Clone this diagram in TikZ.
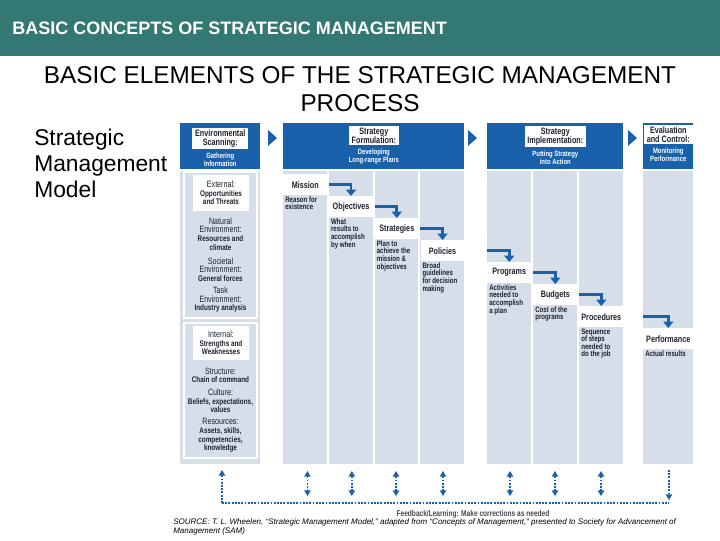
\documentclass[tikz,border=0pt]{standalone}
\usepackage{fontspec}
\setmainfont{Liberation Sans}
\newfontfamily\condfont[FakeStretch=0.78]{Liberation Sans}
\usetikzlibrary{arrows.meta,positioning}

\definecolor{hdrteal}{RGB}{51,120,114}
\definecolor{smblue}{RGB}{26,97,172}
\definecolor{smpale}{RGB}{214,222,234}
\definecolor{smink}{RGB}{28,34,46}
\definecolor{fbgray}{RGB}{70,74,80}

\newcommand\envhd[1]{{\mdseries\fontsize{6.5}{6.1}\selectfont #1}}

\tikzset{
    headbar/.style={fill=smblue, inner sep=0pt, anchor=north west, minimum height=1.15cm},
    headlab/.style={fill=white, text=smink, align=center, inner xsep=2pt, inner ysep=1pt,
        font=\condfont\bfseries\fontsize{6.6}{6.8}\selectfont},
    headsub/.style={text=white, align=center, inner sep=0pt,
        font=\condfont\bfseries\fontsize{5.4}{5.6}\selectfont},
    steplab/.style={fill=white, text=smink, anchor=north west, inner sep=0pt,
        minimum width=1.1cm, minimum height=0.52cm,
        font=\condfont\bfseries\fontsize{6.6}{6.8}\selectfont},
    stepdesc/.style={text=smink, align=left, inner xsep=0.05cm, inner ysep=0pt,
        font=\condfont\bfseries\fontsize{5.6}{5.4}\selectfont},
    stepflow/.style={draw=smblue, line width=2pt, -{Triangle[width=7pt,length=4.5pt]}},
    envbox/.style={fill=white, text=smink, align=center, minimum width=1.4cm, inner sep=0pt,
        font=\condfont\bfseries\fontsize{5.8}{6.1}\selectfont},
    envtext/.style={text=smink, align=center, inner sep=0pt,
        font=\condfont\bfseries\fontsize{5.8}{6.1}\selectfont},
    fback/.style={draw=smblue, line width=1.3pt, densely dotted},
    fbtip/.style={-{Triangle[width=4.5pt,length=4pt]}},
    fbboth/.style={{Triangle[width=4.5pt,length=4pt]}-{Triangle[width=4.5pt,length=4pt]}},
}

\begin{document}
\begin{tikzpicture}[x=0.025cm, y=-0.025cm]
    \useasboundingbox (0,0) rectangle (720,540);
    \fill[white] (0,0) rectangle (720,540);
    % slide header and titles
    \fill[hdrteal] (0,0) rectangle (720,56);
    \node[anchor=west, inner sep=0pt, text=white, font=\bfseries\fontsize{12.8}{15}\selectfont]
        (pagehead) at (12,28) {BASIC CONCEPTS OF STRATEGIC MANAGEMENT};
    \node[anchor=north, inner sep=0pt, align=center, font=\fontsize{17.3}{19.8}\selectfont]
        (title) at (360,66.5) {BASIC ELEMENTS OF THE STRATEGIC MANAGEMENT\\PROCESS};
    \node[anchor=north west, inner sep=0pt, align=left, font=\fontsize{16.2}{18.4}\selectfont]
        (model) at (34,129) {Strategic\\Management\\Model};

    % phase headers
    \node[headbar, minimum width=2cm] (envhead) at (180,123) {};
    \node[headbar, minimum width=4.525cm] (formhead) at (283,123) {};
    \node[headbar, minimum width=3.4cm] (implhead) at (487,123) {};
    \node[headbar, minimum width=1.25cm] (evalhead) at (643,123) {};
    \node[headlab, below=0.125cm of envhead.north] (envlab) {Environmental\\Scanning:};
    \node[headlab, below=0.075cm of formhead.north] (formlab) {Strategy\\Formulation:};
    \node[headlab, below=0.075cm of implhead.north] (impllab) {Strategy\\Implementation:};
    \node[headlab, below=0.05cm of evalhead.north] (evallab) {Evaluation\\and Control:};
    \node[headsub, below=0.08cm of envlab] (envsub) {Gathering\\Information};
    \node[headsub, below=0.08cm of formlab] (formsub) {Developing\\Long-range Plans};
    \node[headsub, below=0.08cm of impllab] (implsub) {Putting Strategy\\into Action};
    \node[headsub, below=0.08cm of evallab] (evalsub) {Monitoring\\Performance};
    \foreach \tx in {268,468,628}
        \fill[smblue] (\tx,130) -- ++(9,8) -- ++(-9,8) -- cycle;

    % columns
    \fill[smpale] (180,171) rectangle (260,464);
    \foreach \cx in {283,328.75,374.5,420.25}
        \fill[smpale] (\cx,171) rectangle ++(43.75,293);
    \foreach \cx in {487,533,579}
        \fill[smpale] (\cx,171) rectangle ++(44,293);
    \fill[smpale] (643,171) rectangle (693,464);

    % environmental scanning
    \draw[white, line width=1pt] (184,172) rectangle (257,318);
    \draw[white, line width=1pt] (184,323) rectangle (257,458);
    \node[envbox, minimum height=0.9cm] (external) at (221,193) {\envhd{External:}\\Opportunities\\and Threats};
    \node[envtext] (natural) at (220.5,234) {\envhd{Natural}\\\envhd{Environment:}\\Resources and\\climate};
    \node[envtext] (societal) at (220.5,269.5) {\envhd{Societal}\\\envhd{Environment:}\\General forces};
    \node[envtext] (task) at (220.5,299.8) {\envhd{Task}\\\envhd{Environment:}\\Industry analysis};
    \node[envbox, minimum height=0.85cm] (internal) at (221,343) {\envhd{Internal:}\\Strengths and\\Weaknesses};
    \node[envtext] (structure) at (220.5,375.2) {\envhd{Structure:}\\Chain of command};
    \node[envtext] (culture) at (220.5,401) {\envhd{Culture:}\\Beliefs, expectations,\\values};
    \node[envtext] (resources) at (220.5,435.5) {\envhd{Resources:}\\Assets, skills,\\competencies,\\knowledge};

    % process steps
    \node[steplab] (mission) at (283,174) {Mission};
    \node[steplab] (objectives) at (328.75,196) {Objectives};
    \node[steplab] (strategies) at (374.5,218) {Strategies};
    \node[steplab] (policies) at (420.25,240) {Policies};
    \node[steplab] (programs) at (487,262) {Programs};
    \node[steplab] (budgets) at (533,284) {Budgets};
    \node[steplab] (procedures) at (579,306) {Procedures};
    \node[steplab, minimum width=1.25cm] (performance) at (643,328) {Performance};

    \node[stepdesc, below=0.025cm of mission.south west, anchor=north west] (missiontxt) {Reason for\\existence};
    \node[stepdesc, below=0.025cm of objectives.south west, anchor=north west] (objectivestxt) {What\\results to\\accomplish\\by when};
    \node[stepdesc, below=0.025cm of strategies.south west, anchor=north west] (strategiestxt) {Plan to\\achieve the\\mission \&\\objectives};
    \node[stepdesc, below=0.025cm of policies.south west, anchor=north west] (policiestxt) {Broad\\guidelines\\for decision\\making};
    \node[stepdesc, below=0.025cm of programs.south west, anchor=north west] (programstxt) {Activities\\needed to\\accomplish\\a plan};
    \node[stepdesc, below=0.025cm of budgets.south west, anchor=north west] (budgetstxt) {Cost of the\\programs};
    \node[stepdesc, below=0.025cm of procedures.south west, anchor=north west] (procedurestxt) {Sequence\\of steps\\needed to\\do the job};
    \node[stepdesc, below=0.025cm of performance.south west, anchor=north west] (performancetxt) {Actual results};

    \draw[stepflow] (mission.east -| objectives.west) -| (objectives.north);
    \draw[stepflow] (objectives.east -| strategies.west) -| (strategies.north);
    \draw[stepflow] (strategies.east -| policies.west) -| (policies.north);
    \draw[stepflow] (policies.east -| programs.west) -| (programs.north);
    \draw[stepflow] (programs.east -| budgets.west) -| (budgets.north);
    \draw[stepflow] (budgets.east -| procedures.west) -| (procedures.north);
    \draw[stepflow] (procedures.east -| performance.west) -| (performance.north);

    % feedback loop
    \coordinate (fbleft) at (222,503);
    \coordinate (fbright) at (669,503);
    \coordinate (envfoot) at (222,470);
    \coordinate (evalfoot) at (669,470);
    \draw[fback] (fbleft) -- (fbright);
    \draw[fback, fbtip] (fbleft) -- (envfoot);
    \draw[fback, fbtip] (evalfoot) -- (669,500);
    \foreach \fx [count=\i] in {307.5,351.8,396,443,510,555,601} {
        \coordinate (fbtop\i) at (\fx,471);
        \coordinate (fbbot\i) at (\fx,496);
        \draw[fback, fbboth] (fbtop\i) -- (fbbot\i);
    }
    \node[text=fbgray, inner sep=0pt, font=\condfont\bfseries\fontsize{6}{6}\selectfont]
        (feedback) at (473,514) {Feedback/Learning: Make corrections as needed};
    \node[anchor=north west, inner sep=0pt, align=left, font=\itshape\fontsize{5.7}{7}\selectfont]
        (source) at (173,518) {SOURCE: T. L. Wheelen, “Strategic Management Model,” adapted from “Concepts of Management,” presented to Society for Advancement of\\Management (SAM)};
\end{tikzpicture}
\end{document}
